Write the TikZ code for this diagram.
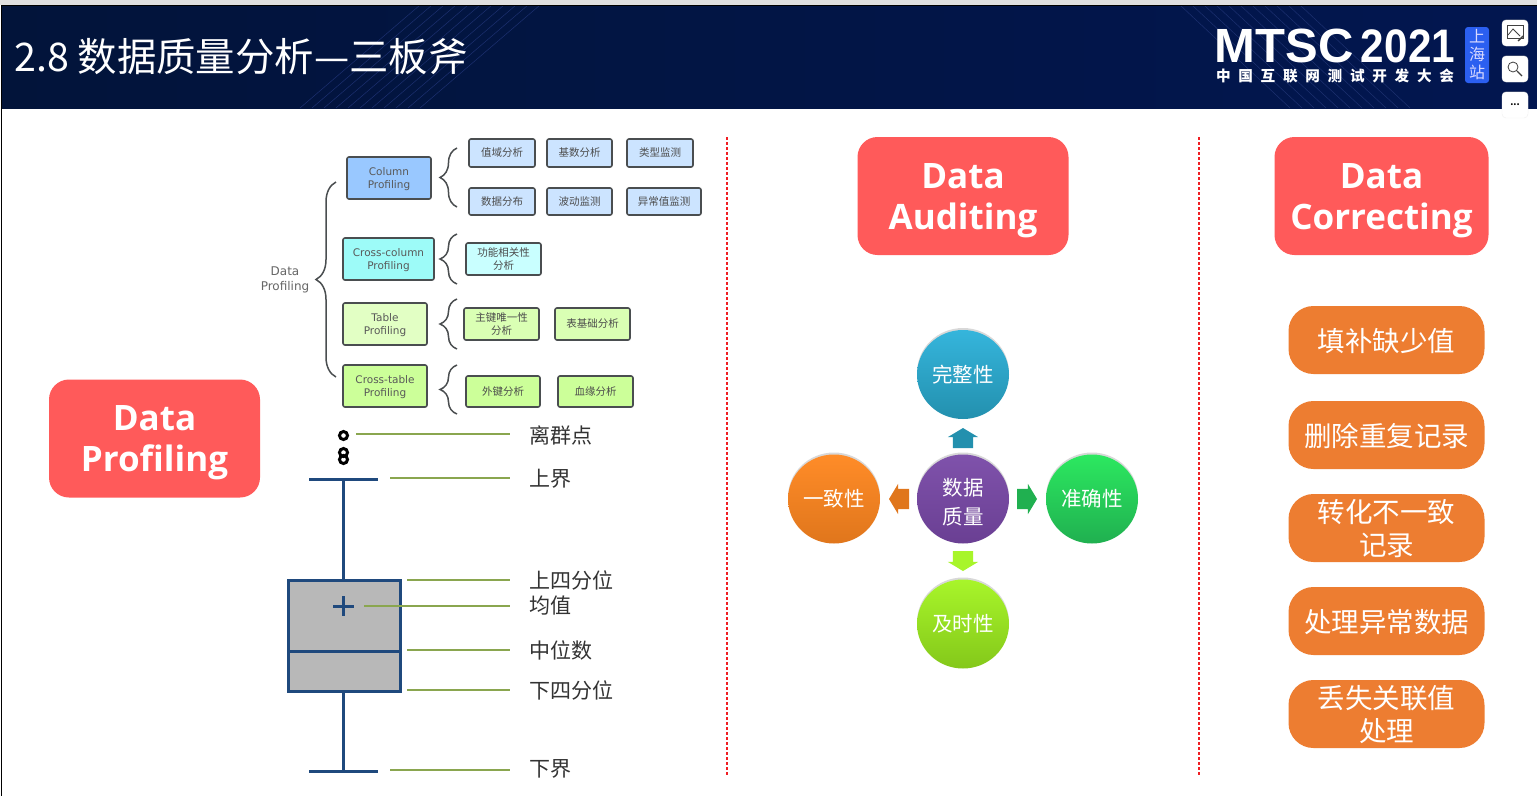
\documentclass[tikz,border=0pt]{standalone}
\usepackage{fontspec}
\setmainfont{Noto Sans CJK SC}
\newfontfamily\latinfont{Open Sans}
\newfontfamily\boxfont{DejaVu Sans}
\newfontfamily\logofont{Liberation Sans}
\newfontfamily\logocn[LetterSpace=53]{Noto Sans CJK SC}
\usetikzlibrary{shapes.arrows, shapes.geometric, shadows, decorations.pathreplacing}

\definecolor{headnavy}{HTML}{02143A}
\definecolor{headblue}{HTML}{021650}
\definecolor{stripe}{HTML}{1C3070}
\definecolor{redcard}{HTML}{FF5A5A}
\definecolor{orangecard}{HTML}{ED7D31}
\definecolor{boxnavy}{HTML}{1F497D}
\definecolor{leadgreen}{HTML}{8AA64F}
\definecolor{edgegrey}{HTML}{4A4E50}
\definecolor{splitred}{HTML}{F01E23}
\definecolor{badgeblue}{HTML}{2B5FF0}
\definecolor{purpleA}{HTML}{7F52AB}
\definecolor{purpleB}{HTML}{6A3F93}
\definecolor{blueA}{HTML}{35B5DC}
\definecolor{blueB}{HTML}{2390AE}
\definecolor{orangeA}{HTML}{FF8C28}
\definecolor{orangeB}{HTML}{E0761C}
\definecolor{greenA}{HTML}{2CE860}
\definecolor{greenB}{HTML}{20B050}
\definecolor{limeA}{HTML}{A8F52A}
\definecolor{limeB}{HTML}{84C81A}
\definecolor{colmain}{HTML}{99C8FF}
\definecolor{colsub}{HTML}{CCE4FF}
\definecolor{crossmain}{HTML}{9DFBF8}
\definecolor{crosssub}{HTML}{C9FFFF}
\definecolor{tablemain}{HTML}{E2FFC4}
\definecolor{tablesub}{HTML}{DAFFB4}
\definecolor{linkmain}{HTML}{CCFF99}

\tikzset{
    redbox/.style={fill=redcard, rounded corners=20, minimum width=211, minimum height=118,
        align=center, text=white, text height=75,
        font=\latinfont\bfseries\fontsize{35}{41}\selectfont},
    fixbox/.style={fill=orangecard, rounded corners=25, minimum width=196, minimum height=68,
        align=center, text=white, text width=180, text height=25,
        font=\fontsize{27.5}{33}\selectfont},
    probox/.style={draw=edgegrey, line width=1.6, rounded corners=2, minimum width=84, minimum height=42,
        align=center, inner sep=0, text=black!65, text height=24,
        font=\boxfont\fontsize{10.5}{13}\selectfont},
    subbox/.style={draw=edgegrey, line width=1.6, rounded corners=2, minimum width=66, minimum height=28,
        align=center, inner sep=0, text=black!70, font=\fontsize{10.5}{13}\selectfont},
    bracket/.style={draw=edgegrey, line width=1.5, decorate, decoration={brace, amplitude=#1}},
    bracket/.default=17,
    leader/.style={draw=leadgreen, line width=1.8},
    plotline/.style={draw=boxnavy, line width=3},
    outlier/.style={circle, draw=black, line width=3, inner sep=0, minimum size=8},
    lab/.style={anchor=west, inner sep=0, text=black!80, font=\fontsize{21}{24}\selectfont},
    ball/.style={ellipse, minimum width=92, minimum height=89, inner sep=0, align=center, text=white,
        drop shadow={shadow xshift=0, shadow yshift=-2, opacity=0.3},
        font=\fontsize{20.5}{29}\selectfont},
    blockarrow/.style={single arrow, fill=#1, inner xsep=0, inner ysep=10, minimum height=20,
        minimum width=30, single arrow head extend=5, single arrow tip angle=118,
        single arrow head indent=0, outer sep=0, anchor=tip},
    toolbox/.style={fill=white, draw=black!6, rounded corners=4, minimum size=26, inner sep=0,
        drop shadow={shadow xshift=0, shadow yshift=-1, opacity=0.2}},
    splitline/.style={draw=splitred, line width=1.3, dash pattern=on 3pt off 2pt},
}

\begin{document}
\begin{tikzpicture}[x=1pt, y=-1pt, >=latex]
    \useasboundingbox (0,0) rectangle (1537,796);
    % Nền và thanh tiêu đề
    \fill[white] (0,0) rectangle (1537,796);
    \fill[black!12] (0,0) rectangle (1537,5);
    \draw[black, line width=1] (1,5) -- (1,796);
    \shade[left color=headnavy, right color=headblue] (2,5) rectangle (1537,108);
    \begin{scope}
        \clip (2,5) rectangle (1537,108);
        \foreach \i in {0,12,...,120}
            \draw[stripe, line width=0.5] (1180+\i,5) -- (1290+\i,108);
        \foreach \i in {0,12,...,120}
            \draw[stripe, line width=0.5] (300+\i,108) -- (420+\i,5);
    \end{scope}
    \draw[black, line width=1] (1,5) -- (1537,5);
    \node[anchor=west, inner sep=0, text=white, font=\fontsize{39.4}{44}\selectfont] (title) at (14,57) {2.8 数据质量分析—三板斧};

    % Logo
    \node[inner sep=0, text=white, font=\logofont\bfseries\fontsize{48}{48}\selectfont, xscale=1.02] (logoA) at (1284,46) {MTSC};
    \node[inner sep=0, text=white, font=\logofont\bfseries\fontsize{47}{47}\selectfont, xscale=0.9] (logoB) at (1408,46) {2021};
    \node[inner sep=0, text=white, font=\logocn\bfseries\fontsize{14.6}{15}\selectfont] (logoC) at (1335,75.5)
        {中国互联网测试开发大会};
    \node[fill=badgeblue, rounded corners=3, minimum width=24, minimum height=56, inner sep=0,
        align=center, text=white!85!blue, font=\fontsize{16}{18}\selectfont] (badge) at (1477,55) {上\\海\\站};

    % Nút công cụ
    \node[toolbox] (toolA) at (1515,33) {};
    \node[toolbox] (toolB) at (1515,69) {};
    \node[toolbox, font=\bfseries\fontsize{9}{9}\selectfont] (toolC) at (1515,105) {...};
    \draw[black!75, line width=0.8] (1507,25) rectangle (1523,38);
    \draw[black!75, line width=0.8] (1508,35) -- (1513,29) -- (1520,36);
    \draw[black!75, line width=1.4] (1518,41) -- (1523,36);
    \draw[black!75, line width=0.8] (1513,67) circle (5);
    \draw[black!75, line width=1.1] (1517,71) -- (1522,76);

    % Đường phân cách
    \draw[splitline] (727,137) -- (727,776);
    \draw[splitline] (1199,137) -- (1199,776);

    % Ba tiêu đề
    \node[redbox] (profiling) at (154.5,438.5) {Data\\Profiling};
    \node[redbox] (auditing) at (963,196) {Data\\Auditing};
    \node[redbox, minimum width=214] (correcting) at (1381.5,196) {Data\\Correcting};

    % Cây Data Profiling
    \node[text=black!60, align=center, inner sep=0, font=\boxfont\fontsize{12}{15}\selectfont] (rootlabel) at (285,280) {Data\\Profiling};
    \draw[bracket=20] (336,377) -- (336,182);

    \node[probox, fill=colmain] (column) at (389,178) {Column\\Profiling};
    \node[probox, fill=crossmain, minimum width=91] (crosscol) at (388.5,259) {Cross-column\\Profiling};
    \node[probox, fill=tablemain] (tablep) at (385,324) {Table\\Profiling};
    \node[probox, fill=linkmain] (crosstab) at (385,386) {Cross-table\\Profiling};

    \draw[bracket] (457,207) -- (457,148);
    \draw[bracket] (457,284) -- (457,234);
    \draw[bracket] (457,349) -- (457,299);
    \draw[bracket] (457,414) -- (457,365);

    \node[subbox, fill=colsub] (zhiyu) at (502,153) {值域分析};
    \node[subbox, fill=colsub, minimum width=65] (jishu) at (579.5,153) {基数分析};
    \node[subbox, fill=colsub] (leixing) at (660,153) {类型监测};
    \node[subbox, fill=colsub, minimum height=27] (fenbu) at (502,201.5) {数据分布};
    \node[subbox, fill=colsub, minimum height=27, minimum width=65] (bodong) at (579.5,201.5) {波动监测};
    \node[subbox, fill=colsub, minimum height=27, minimum width=74] (yichang) at (664,201.5) {异常值监测};

    \node[subbox, fill=crosssub, minimum width=75, minimum height=32] (gongneng) at (503.5,259) {功能相关性\\分析};
    \node[subbox, fill=tablesub, minimum width=75, minimum height=32] (zhujian) at (501.5,324) {主键唯一性\\分析};
    \node[subbox, fill=tablesub, minimum width=75, minimum height=32] (biaoji) at (592.5,324) {表基础分析};
    \node[subbox, fill=linkmain, minimum width=74, minimum height=31] (waijian) at (503,391.5) {外键分析};
    \node[subbox, fill=linkmain, minimum width=75, minimum height=31] (xueyuan) at (595.5,391.5) {血缘分析};

    % Biểu đồ hộp
    \fill[black!28] (288,580) rectangle (400,691);
    \draw[plotline] (288,580) rectangle (400,691);
    \draw[plotline] (288,651) -- (400,651);
    \draw[plotline] (309,479) -- (378,479);
    \draw[plotline] (309,771) -- (378,771);
    \draw[plotline] (343,479) -- (343,580);
    \draw[plotline] (343,691) -- (343,771);
    \draw[plotline] (333,606) -- (354,606);
    \draw[plotline] (343,596) -- (343,616);
    \node[outlier] (outA) at (343.5,435.5) {};
    \node[outlier] (outB) at (343.5,452.5) {};
    \node[outlier] (outC) at (343.5,459.5) {};

    \coordinate (upper) at (390,478);
    \coordinate (qthree) at (407,580);
    \coordinate (mean) at (364,606);
    \coordinate (median) at (407,650);
    \coordinate (qone) at (407,690);
    \coordinate (lower) at (390,770);

    \node[lab] (labA) at (529.5,435) {离群点};
    \node[lab] (labB) at (529.5,479) {上界};
    \node[lab] (labC) at (529.5,580.5) {上四分位};
    \node[lab] (labD) at (529.5,606) {均值};
    \node[lab] (labE) at (529.5,650) {中位数};
    \node[lab] (labF) at (529.5,690.5) {下四分位};
    \node[lab] (labG) at (529.5,769) {下界};

    \draw[leader] (356,434) -- (510,434);
    \draw[leader] (upper) -- (510,478);
    \draw[leader] (qthree) -- (510,580);
    \draw[leader] (mean) -- (510,606);
    \draw[leader] (median) -- (510,650);
    \draw[leader] (qone) -- (510,690);
    \draw[leader] (lower) -- (510,770);

    % Năm chiều chất lượng
    \node[ball, top color=purpleA, bottom color=purpleB, text height=52] (quality) at (963,499) {数据\\质量};
    \node[ball, top color=blueA, bottom color=blueB] (complete) at (963,374.5) {完整性};
    \node[ball, top color=orangeA, bottom color=orangeB] (consistent) at (834,499) {一致性};
    \node[ball, top color=greenA, bottom color=greenB] (accurate) at (1092,499) {准确性};
    \node[ball, top color=limeA, bottom color=limeB] (timely) at (963,624) {及时性};

    \node[blockarrow=blueB, rotate=90] (toComplete) at (963,428) {};
    \node[blockarrow=orangeB, rotate=180] (toConsistent) at (889,499) {};
    \node[blockarrow=greenB] (toAccurate) at (1037,499) {};
    \node[blockarrow=limeA, rotate=-90] (toTimely) at (963,571) {};

    % Năm thao tác sửa dữ liệu
    \node[fixbox] (fill) at (1386.5,340) {填补缺少值};
    \node[fixbox] (dedup) at (1386.5,435) {删除重复记录};
    \node[fixbox] (convert) at (1386.5,528) {转化不一致\\记录};
    \node[fixbox] (abnormal) at (1386.5,621) {处理异常数据};
    \node[fixbox] (lost) at (1386.5,714) {丢失关联值\\处理};
\end{tikzpicture}
\end{document}
